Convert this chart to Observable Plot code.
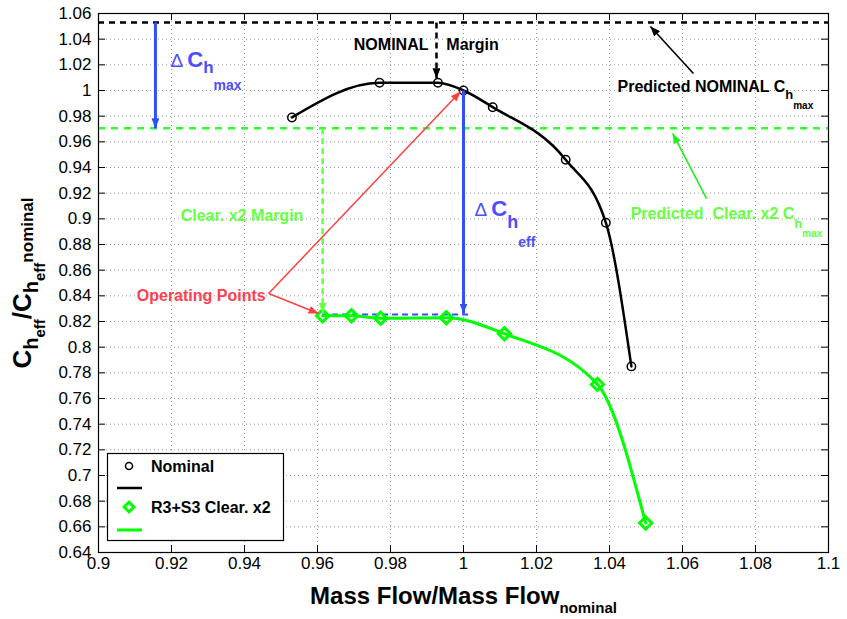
<!DOCTYPE html>
<html><head><meta charset="utf-8">
<script src="https://cdn.jsdelivr.net/npm/d3@7"></script>
<script src="https://cdn.jsdelivr.net/npm/@observablehq/plot@0.6"></script>
<style>
body{margin:0;background:#fff;}
#chart{position:relative;width:847px;height:619px;}
</style></head><body><div id="chart"></div>
<script>
// ---- data ----
const nominalX = [0.953, 0.977, 0.993, 1.000, 1.008, 1.028, 1.039, 1.046];
const nominalY = [0.979, 1.006, 1.006, 1.000, 0.987, 0.946, 0.897, 0.785];
const clearX = [0.9614, 0.9693, 0.9773, 0.9953, 1.0112, 1.0367, 1.0499];
const clearY = [0.8245, 0.8245, 0.8225, 0.8230, 0.8105, 0.7710, 0.6630];
const xTicks = [0.9, 0.92, 0.94, 0.96, 0.98, 1, 1.02, 1.04, 1.06, 1.08, 1.1];
const xTickLabels = ["0.9","0.92","0.94","0.96","0.98","1","1.02","1.04","1.06","1.08","1.1"];
const yTicks = [0.64,0.66,0.68,0.7,0.72,0.74,0.76,0.78,0.8,0.82,0.84,0.86,0.88,0.9,0.92,0.94,0.96,0.98,1,1.02,1.04,1.06];
const yTickLabels = ["0.64","0.66","0.68","0.7","0.72","0.74","0.76","0.78","0.8","0.82","0.84","0.86","0.88","0.9","0.92","0.94","0.96","0.98","1","1.02","1.04","1.06"];
const predictedNominal = 1.053;
const predictedClear = 0.9705;
const clearLevel = 0.8255;
const seriesNames = ["Nominal", "R3+S3 Clear. x2"];

// annotation arrows (data units)
const arrows = [
  {id:"blueBig", x1:0.9156, y1:predictedNominal, x2:0.9156, y2:predictedClear, color:"#3050ff", w:3},
  {id:"blueBig", x1:1.0, y1:1.0, x2:1.0, y2:0.8262, color:"#3050ff", w:3},
  {id:"blackDash", x1:0.9926, y1:predictedNominal, x2:0.9926, y2:1.0095, color:"black", w:2.5, dash:"6,4"},
  {id:"blackThin", x1:1.063, y1:1.0132, x2:1.0512, y2:1.0499, color:"black", w:1.6},
  {id:"greenDash", x1:0.9614, y1:predictedClear, x2:0.9614, y2:0.8268, color:"#66ff44", w:2.5, dash:"6,4"},
  {id:"greenThin", x1:1.0666, y1:0.9158, x2:1.0573, y2:0.9665, color:"#22ee22", w:1.6},
  {id:"red", x1:0.9466, y1:0.8418, x2:0.9992, y2:0.9992, color:"#ff4040", w:1.5},
  {id:"red", x1:0.9466, y1:0.8418, x2:0.9603, y2:0.8262, color:"#ff4040", w:1.5}
];
const HEADS = {blueBig:{len:17,half:5.5}, blackDash:{len:13,half:5}, blackThin:{len:10,half:4}, greenDash:{len:13,half:5}, greenThin:{len:10,half:4}, red:{len:11,half:4}};

// annotation labels (data units)
const labels = [
  {x:0.9904, y:1.0358, t:"NOMINAL", anchor:"end", color:"black"},
  {x:0.9953, y:1.0358, t:"Margin", anchor:"start", color:"black"},
  {x:1.0422, y:1.0031, t:"R_predNom", anchor:"start", color:"black"},
  {x:0.9197, y:1.0226, t:"R_dChmax", anchor:"start", color:"#4d4dff"},
  {x:0.9225, y:0.9026, t:"Clear. x2 Margin", anchor:"start", color:"#66ff44"},
  {x:1.0030, y:0.9065, t:"R_dCheff", anchor:"start", color:"#4d4dff"},
  {x:1.0458, y:0.9040, t:"R_predClear", anchor:"start", color:"#66ff44"},
  {x:0.9458, y:0.8402, t:"Operating Points", anchor:"end", color:"#ff4050"}
];

const RICH = {
  "R_predNom": [{t:"Predicted NOMINAL C"},{t:"h",s:13,d:7},{t:"max",s:10,d:17}],
  "R_dChmax": [{t:"\u0394 ",s:19,w:"normal"},{t:"C",s:22},{t:"h",s:17,d:6},{t:"max",s:14,d:23}],
  "R_dCheff": [{t:"\u0394 ",s:19,w:"normal"},{t:"C",s:22},{t:"h",s:18,d:12},{t:"eff",s:14,d:31}],
  "R_predClear": [{t:"Predicted  Clear. x2 C",pre:true},{t:"h",s:13,d:9},{t:"max",s:10,d:18}],
  "R_xTitle": [{t:"Mass Flow/Mass Flow"},{t:"nominal",s:15,d:9}],
  "R_yTitle": [{t:"C",s:26},{t:"h",s:20,d:7},{t:"eff",s:15,d:14},{t:"/C",s:26,d:0},{t:"h",s:20,d:7},{t:"eff",s:15,d:14},{t:"nominal",s:17,d:2}]
};

const nominal = nominalX.map((x, i) => ({x, y: nominalY[i]}));
const clear = clearX.map((x, i) => ({x, y: clearY[i]}));
const xLab = new Map(xTicks.map((t, i) => [t, xTickLabels[i]]));
const yLab = new Map(yTicks.map((t, i) => [t, yTickLabels[i]]));

const W = 847, H = 619, mT = 13, mR = 19, mB = 67, mL = 98;
const plotW = W - mL - mR, plotH = H - mT - mB;
const FONT = "'Liberation Sans', Arial, Helvetica, sans-serif";

const plot = Plot.plot({
  width: W, height: H, marginTop: mT, marginRight: mR, marginBottom: mB, marginLeft: mL,
  style: {fontFamily: FONT, fontSize: "17px", background: "white", color: "black", overflow: "visible"},
  x: {domain: [0.9, 1.1], ticks: xTicks, tickFormat: d => xLab.get(d) ?? String(d), tickSize: 0, tickPadding: 4, label: null},
  y: {domain: [0.64, 1.06], ticks: yTicks, tickFormat: d => yLab.get(d) ?? String(d), tickSize: 0, tickPadding: 7, label: null},
  marks: [
    Plot.ruleX(xTicks, {stroke: "#999", strokeDasharray: "1,3", strokeWidth: 1}),
    Plot.ruleY(yTicks, {stroke: "#999", strokeDasharray: "1,3", strokeWidth: 1}),
    Plot.ruleX(xTicks, {stroke: "black", insetTop: plotH - 7}),
    Plot.ruleX(xTicks, {stroke: "black", insetBottom: plotH - 7}),
    Plot.ruleY(yTicks, {stroke: "black", insetRight: plotW - 7}),
    Plot.ruleY(yTicks, {stroke: "black", insetLeft: plotW - 7}),
    Plot.ruleY([predictedNominal], {stroke: "black", strokeWidth: 2.5, strokeDasharray: "6,5"}),
    Plot.ruleY([predictedClear], {stroke: "#33ff33", strokeWidth: 2.5, strokeDasharray: "7,6"}),
    Plot.ruleY([clearLevel], {x1: clearX[0], x2: 1.0025, stroke: "#3050ff", strokeWidth: 2, strokeDasharray: "6,4"}),
    Plot.line(nominal, {x: "x", y: "y", stroke: "black", strokeWidth: 2.5, curve: "monotone-x"}),
    Plot.line(clear, {x: "x", y: "y", stroke: "#00ff00", strokeWidth: 3, curve: "monotone-x"}),
    Plot.dot(nominal, {x: "x", y: "y", r: 4.2, stroke: "black", strokeWidth: 1.5, fill: "none"}),
    Plot.dot(clear, {x: "x", y: "y", symbol: "diamond2", r: 5.5, stroke: "#00ff00", strokeWidth: 3, fill: "none"}),
    ...arrows.map(a => Plot.link([a], {x1: "x1", y1: "y1", x2: "x2", y2: "y2", stroke: a.color, strokeWidth: a.w, strokeDasharray: a.dash, markerEnd: "arrow", ariaLabel: a.id})),
    ...labels.map(l => Plot.text([l], {x: "x", y: "y", text: "t", textAnchor: l.anchor, fill: l.color, fontSize: 16, fontWeight: "bold"})),
    Plot.frame({stroke: "black", strokeWidth: 1.2}),
    Plot.text(["R_xTitle"], {frameAnchor: "bottom", dy: 44, lineAnchor: "middle", textAnchor: "middle", text: d => d, fontSize: 24, fontWeight: "bold", fill: "black"}),
    Plot.text(["R_yTitle"], {frameAnchor: "left", dx: -76, rotate: -90, lineAnchor: "middle", textAnchor: "middle", text: d => d, fontSize: 26, fontWeight: "bold", fill: "black"})
  ]
});

document.getElementById("chart").appendChild(plot);

// rich text (subscripts)
const NS = "http://www.w3.org/2000/svg";
plot.querySelectorAll("text").forEach(el => {
  const segs = RICH[el.textContent];
  if (!segs) return;
  el.textContent = "";
  let prev = 0;
  segs.forEach(s => {
    const ts = document.createElementNS(NS, "tspan");
    ts.textContent = s.t;
    if (s.s) ts.setAttribute("font-size", s.s);
    ts.setAttribute("font-weight", s.w || "bold");
    if (s.pre) ts.setAttribute("style", "white-space:pre");
    const d = s.d || 0;
    if (d !== prev) ts.setAttribute("dy", d - prev);
    prev = d;
    el.appendChild(ts);
  });
});

// filled arrowheads
plot.querySelectorAll("marker").forEach(m => {
  const key = m.parentNode && m.parentNode.getAttribute("aria-label");
  const spec = HEADS[key] || {len: 10, half: 4};
  const color = m.getAttribute("stroke") || "black";
  m.setAttribute("markerUnits", "userSpaceOnUse");
  m.setAttribute("viewBox", `${-spec.len} ${-spec.half} ${spec.len} ${2 * spec.half}`);
  m.setAttribute("markerWidth", spec.len);
  m.setAttribute("markerHeight", 2 * spec.half);
  m.setAttribute("refX", 0);
  m.setAttribute("refY", 0);
  m.setAttribute("fill", color);
  m.setAttribute("stroke", "none");
  m.setAttribute("stroke-dasharray", "none");
  const p = m.querySelector("path");
  if (p) p.setAttribute("d", `M${-spec.len},${-spec.half}L0,0L${-spec.len},${spec.half}Z`);
});

// legend box (inside plot area, lower-left)
const svg = d3.select(plot);
const lx = mL + 9, ly = mT + plotH - 12 - 87;
const lg = svg.append("g").attr("font-family", FONT).attr("font-weight", "bold").attr("font-size", 16).attr("text-anchor", "start");
lg.append("rect").attr("x", lx + 0.5).attr("y", ly + 0.5).attr("width", 176).attr("height", 87).attr("fill", "white").attr("stroke", "black").attr("stroke-width", 1.2);
lg.append("circle").attr("cx", lx + 22).attr("cy", ly + 13).attr("r", 3.5).attr("fill", "none").attr("stroke", "black").attr("stroke-width", 1.5);
lg.append("text").attr("x", lx + 44).attr("y", ly + 19).attr("fill", "black").text(seriesNames[0]);
lg.append("line").attr("x1", lx + 10).attr("x2", lx + 35).attr("y1", ly + 35).attr("y2", ly + 35).attr("stroke", "black").attr("stroke-width", 2.5);
lg.append("path").attr("d", d3.symbol(d3.symbolDiamond2, 60)()).attr("transform", `translate(${lx + 22},${ly + 54})`).attr("fill", "none").attr("stroke", "#00ff00").attr("stroke-width", 3);
lg.append("text").attr("x", lx + 44).attr("y", ly + 60).attr("fill", "black").text(seriesNames[1]);
lg.append("line").attr("x1", lx + 10).attr("x2", lx + 35).attr("y1", ly + 77).attr("y2", ly + 77).attr("stroke", "#00ff00").attr("stroke-width", 3);
</script>
</body></html>
